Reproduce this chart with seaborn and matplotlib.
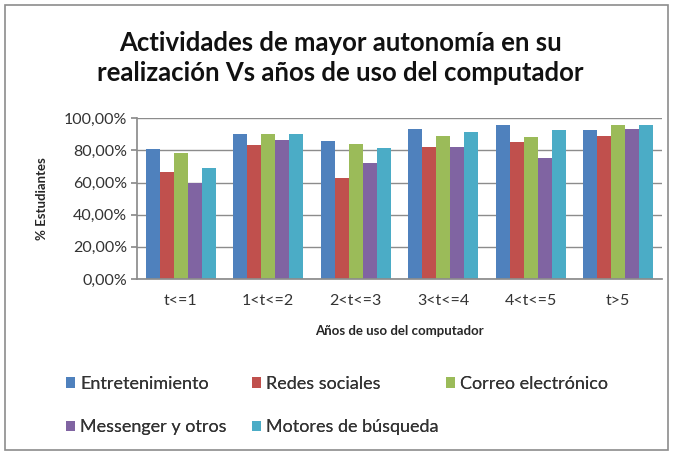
import matplotlib
matplotlib.use("Agg")
import matplotlib.pyplot as plt
import matplotlib.patches as mpatches
from matplotlib.ticker import FuncFormatter
import seaborn as sns
import pandas as pd

categories = ["t<=1", "1<t<=2", "2<t<=3", "3<t<=4", "4<t<=5", "t>5"]
entretenimiento = [80.7, 90.2, 85.7, 93.2, 95.7, 92.7]
redes_sociales = [66.8, 83.4, 62.7, 82.0, 85.3, 89.2]
correo = [78.3, 90.2, 84.0, 89.2, 88.2, 95.7]
messenger = [60.0, 86.5, 72.0, 82.0, 75.3, 93.2]
motores = [69.1, 90.2, 81.4, 91.5, 92.7, 95.7]
series_names = ["Entretenimiento", "Redes sociales", "Correo electrónico",
                "Messenger y otros", "Motores de búsqueda"]
series_values = [entretenimiento, redes_sociales, correo, messenger, motores]
colors = ["#4F81BD", "#C0504D", "#9BBB59", "#8064A2", "#4BACC6"]

rows = []
for name, vals in zip(series_names, series_values):
    for c, v in zip(categories, vals):
        rows.append({"cat": c, "serie": name, "val": v})
df = pd.DataFrame(rows)

sns.set_theme(style="white")
plt.rcParams["font.family"] = ["Lato", "DejaVu Sans"]

fig = plt.figure(figsize=(6.76, 4.55), dpi=100)
ax = fig.add_axes([137/676, 1-279/455, (662-137)/676, (279-118.3)/455])

sns.barplot(data=df, x="cat", y="val", hue="serie", order=categories,
            hue_order=series_names, palette=colors, width=0.8, saturation=1,
            errorbar=None, ax=ax, linewidth=0)

ax.set_ylim(0, 100)
ax.set_yticks([0, 20, 40, 60, 80, 100])
ax.yaxis.set_major_formatter(FuncFormatter(lambda v, p: f"{v:.2f}%".replace(".", ",")))
ax.yaxis.grid(True, color="#8c8c8c", linewidth=1)
ax.set_axisbelow(True)
for s in ["top", "right"]:
    ax.spines[s].set_visible(False)
ax.spines["left"].set_color("#8c8c8c")
ax.spines["bottom"].set_color("#8c8c8c")
ax.tick_params(axis="y", length=4, color="#8c8c8c", labelsize=11.5, labelcolor="#333333", pad=3, left=True)
ax.tick_params(axis="x", length=0, labelsize=11.5, labelcolor="#333333", pad=11)

ax.set_xlabel("Años de uso del computador", fontsize=9.5, fontweight="bold", labelpad=12)
ax.set_ylabel("% Estudiantes", fontsize=9.5, fontweight="bold")
ax.yaxis.set_label_coords(-0.17, 0.5)

fig.suptitle("Actividades de mayor autonomía en su\nrealización Vs años de uso del computador",
             x=0.503, y=1-31/455, va="top", fontsize=18.5, fontweight="bold",
             linespacing=1.3, color="#111111")

handles, labels = ax.get_legend_handles_labels()
ax.get_legend().remove()

groups = [([0, 3], 66), ([1, 4], 252), ([2], 446)]
for idx, xpx in groups:
    leg = fig.legend([handles[i] for i in idx], [labels[i] for i in idx],
                     loc="upper left", bbox_to_anchor=(xpx/676, 1-376/455),
                     frameon=False, fontsize=13, handlelength=0.5,
                     handleheight=0.5, handletextpad=0.3, labelspacing=1.5,
                     borderaxespad=0, borderpad=0)
    for t in leg.get_texts():
        t.set_color("#333333")
    fig.add_artist(leg)

fig.add_artist(mpatches.Rectangle((5/676, 1-450/455), 663/676, 445/455,
                                  transform=fig.transFigure, fill=False,
                                  edgecolor="#8c8c8c", linewidth=1.2))

fig.savefig("out.png", dpi=100, facecolor="white")
